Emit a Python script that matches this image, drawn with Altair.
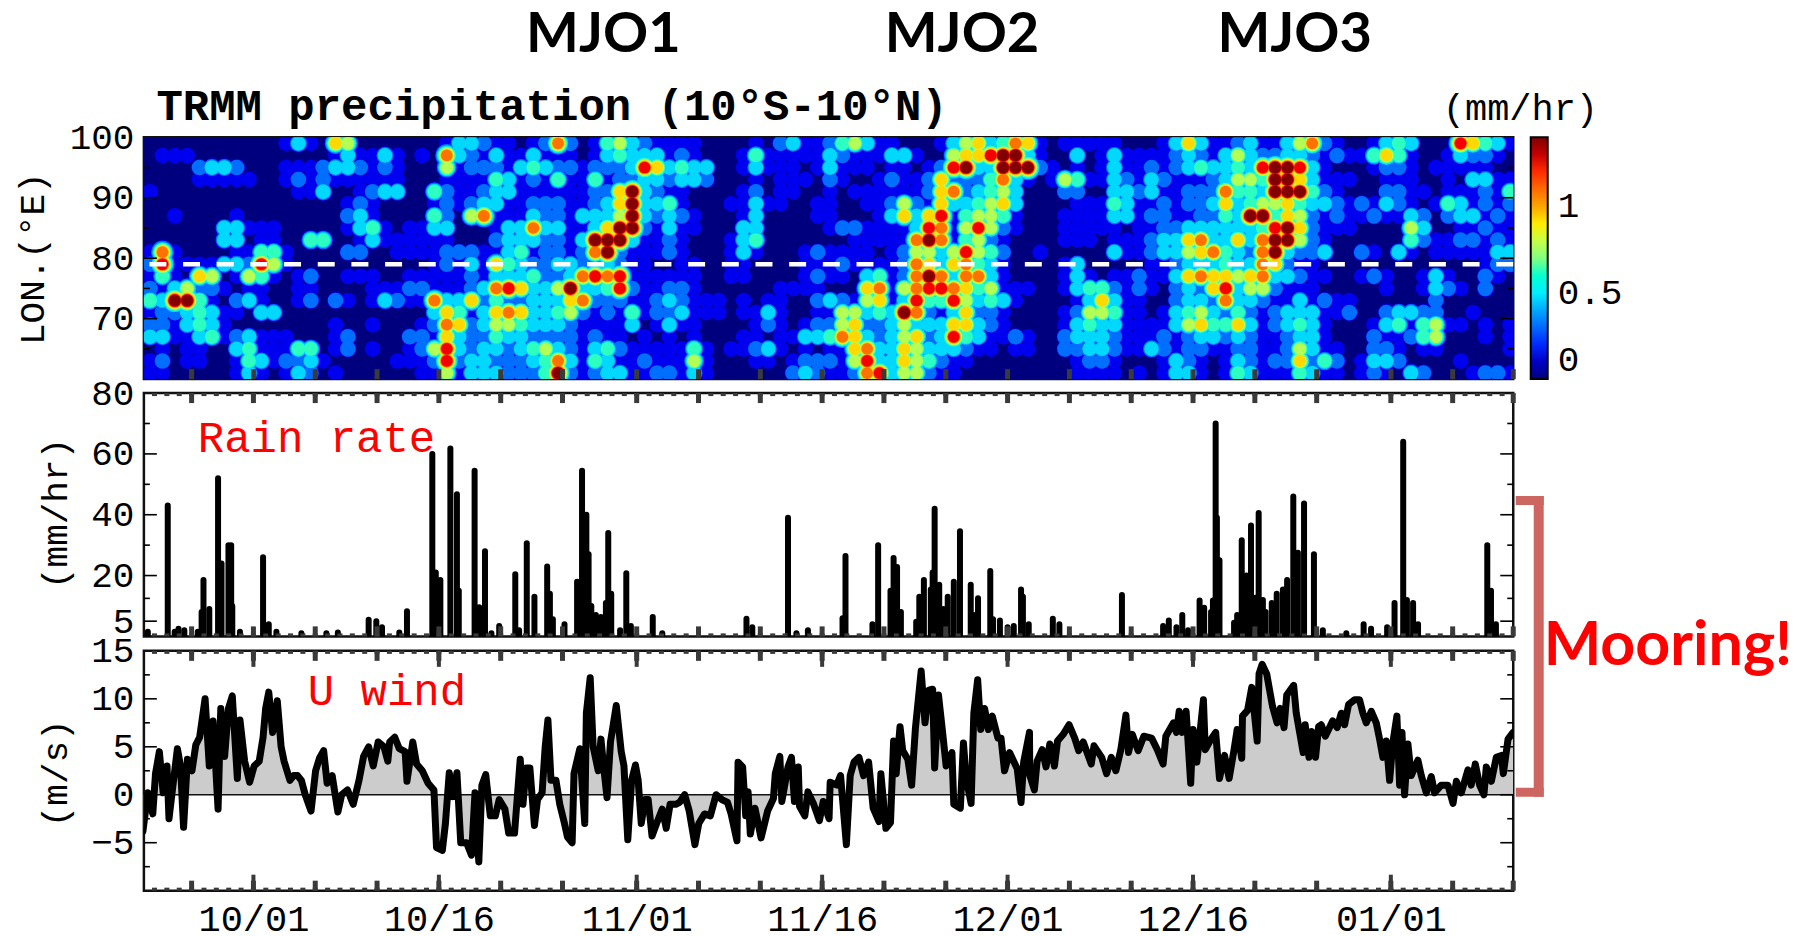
import altair as alt
import pandas as pd

FONT = "Liberation Mono"
W = 1370.5
H1, H2, H3 = 242, 243.5, 240
DAY0, DAY1 = -8.86, 101.9

# TRMM rain: one string per 2-degree row (100E at top), one digit per day
HEAT_ROWS = [
 "0000000000 0131065000 0000133211 0127201453 21111000 01 0231124531 1000135634 7610111110 0013631123 113572 100134300086431",
 "0111000000 0000013113 1010732131 1311101343 33121000 14 1111132111 3310056689 9310030131 1112321353 223321 211464100132210",
 "0000233200 0111233212 1000512221 3432212223 86343300 13 1110131110 1101289339 9921010131 1212343343 899831 000122101111100",
 "0000111110 0121211111 1000111143 1214114122 33233200 01 0111021001 2112622247 3101541132 1321112355 499631 110011100103311",
 "1000000000 0011300123 3004211233 1111112269 32110000 12 0110010111 1112672345 3000220033 2311222744 399942 100022110111214",
 "0000000000 0000001210 0001212331 1222112369 33410001 13 1100110011 2521633456 3000011143 1121223634 556433 212132101431212",
 "0010000100 0000002310 0004205711 1322133359 32321000 13 0000110001 3636814554 1000111133 1221122439 946521 211211320233121",
 "0000003311 1000001341 0113300013 3733113699 21311000 33 0000012211 1138715852 1000111110 1122333333 489621 110000530011211",
 "0000003301 1004400131 1111100023 3322139993 11210001 34 0000000111 1179714521 0000111011 1233673363 799521 000000421122121",
 "1710000114 4100002200 1111222113 4122127921 11210001 31 0001211110 1255358542 0010000031 1233567432 793223 002103101111133",
 "2811113328 5100000000 0001213164 3223322321 10011001 10 0001112111 1276367431 0000130000 0112333433 762110 000000000000122",
 "1410650154 1012001110 0111112133 3422378781 11111001 10 0001211034 1279737731 0000131011 2113676656 733211 001210013100210",
 "2135221011 0011000011 1221112378 6335933482 11221000 00 0111100067 1578876451 1100134421 2102326835 521110 000010013210200",
 "4399410231 0012021013 2117336242 2333672221 12321110 10 1100232156 1384485343 1000013631 1002332733 211312 110000002000000",
 "1223431103 3000000000 0003641367 6334521214 12231110 11 3100115534 3972136221 0000125541 1013453242 123331 120023322001000",
 "2213431000 0000010010 0012762355 4333211113 01311000 01 2101225622 3533366321 0000134331 1113564463 123431 000134145110101",
 "3311341231 1100012000 0221632243 3222212110 10101000 11 0113347632 3562384311 2100233321 1121233232 112331 000211245000101",
 "0101100341 1144012010 0125832332 3453213421 11114101 12 3101011673 3653332110 1100223321 1321221122 112531 100221011000001",
 "1201100143 1223100000 1112823322 2347314311 21115100 01 1012221583 3654211000 0000012210 0013210132 122624 201332000010000",
 "1100000131 0132010000 0011513332 2249212331 12213100 00 0023211278 3552110000 0000011110 1013310143 111431 101210320001221",
]
LEVEL_MM_HR = 0.155
JET = ["#00007f", "#0000ff", "#0080ff", "#00ffff", "#80ff80", "#ffff00", "#ff8000", "#ff0000", "#7f0000"]

# Mooring rain rate spikes: day after Oct 1, mm/hr
RAIN_DAYS = [-8.54,-6.93,-6.37,-6.06,-5.59,-4.5,-4.19,-4.04,-3.57,-2.86,-2.58,-2.02,-1.8,-1.71,-1.09,.78,1.24,1.86,3.88,5.9,6.83,9.32,9.94,10.4,11.8,12.42,14.47,14.75,14.84,15.12,15.93,16.46,16.61,17.89,18.26,18.73,19.25,19.88,21.18,21.49,22.11,22.73,23.76,23.98,24.22,25.16,26.18,26.58,26.93,27.11,27.33,27.7,28.11,28.51,28.7,28.94,29.66,30.16,30.53,32.3,33.07,
 39.88,40.35,43.24,43.92,44.85,47.89,47.65,50.07,50.53,51.53,51.78,52.06,52.37,53.61,53.86,54.23,54.79,54.94,55.1,55.47,55.81,56.16,56.65,57.15,58.02,58.27,58.61,59.6,59.82,60.38,61,61.5,62.09,62.24,62.71,64.66,65.19,70.25,73.58,74.04,74.66,75.13,75.6,76.53,76.9,77.46,77.61,77.83,77.93,78.14,79.32,79.57,79.94,80.32,80.69,81.03,81.31,81.65,81.87,82.37,82.77,83.27,83.61,84.11,84.48,84.98,85.78,86.5,88.4,89.8,90.4,91.7,92.3,93.0,93.3,93.8,94.2,99.8,100.1,100.5]
RAIN_VALS = [1.5,43,1.5,2.5,2,1.5,8,18.5,9,52,24,30,30,10,1.5,26,4,1.5,1,1,1.3,5.5,5,3,1.3,8.3,60,21,12.7,18.5,61.8,46.7,15,54.5,9.6,28,1,3.4,20.4,2,30.6,13,23,14,5.6,4,18,54.5,40,27,10,7,6.4,11,34,14,2,20.8,3.4,6.4,1,
 5.8,3,39,1,2,26.4,6,4,30,15,25.8,22.8,8,4.8,13,18.5,15.4,21,42,17,9,13,18,34.6,17,7,12.5,21.5,5.6,5.2,3,3.4,15.4,13,4,5.8,4,13.6,3.4,5.2,3,7,2,11.8,9.4,8,11.8,70,39,25,4.5,7,31.6,20,36.5,12.7,40.6,12,8,11,14,15.4,18.5,46,27.5,43.7,27,2,1,4,2.5,3,11,64,12,11,4,30,15,4]

# Mooring zonal wind: day after Oct 1, m/s
WIND_DAYS = [-8.94,-8.54,-8.14,-7.92,-7.61,-7.30,-6.99,-6.83,-6.46,-6.15,-5.90,-5.65,-5.34,-4.97,-4.66,-4.35,-3.91,-3.57,-3.26,-2.86,-2.64,-2.33,-2.02,-1.71,-1.30,-1.09,-.71,-.31,.06,.47,.78,.99,1.24,1.55,1.93,2.24,2.48,2.95,3.26,3.57,3.88,4.19,4.66,5.03,5.34,5.68,5.96,6.37,6.83,7.14,7.61,8.07,8.54,8.91,9.32,9.69,10.09,10.56,10.87,11.02,11.43,11.80,12.27,12.42,12.89,13.2,13.66,14.13,14.6,14.81,15.28,15.53,15.84,16.15,16.46,16.77,17.24,17.64,17.92,18.23,18.48,18.79,19.16,19.57,19.88,20.34,20.65,21.12,21.58,21.8,22.05,22.36,22.73,22.98,23.35,23.6,23.82,24.07,24.47,24.78,25.16,25.4,25.78,25.93,26.4,26.8,26.93,27.24,27.48,27.89,28.11,28.32,28.6,28.88,29.35,29.75,29.97,30.28,30.59,30.9,31.12,31.37,31.68,31.93,32.24,32.61,33.07,33.39,33.7,34.16,34.47,34.88,35.25,35.71,36.02,36.49,36.96,37.42,37.89,38.35,
 38.64,39.11,39.2,39.57,39.82,40.01,40.19,40.57,41.06,41.59,42.06,42.21,42.58,42.74,43.24,43.52,43.76,44.07,44.17,44.6,44.85,45.32,45.78,46.09,46.56,46.65,47.18,47.49,47.96,48.27,48.58,48.98,49.35,49.76,50.13,50.6,50.75,51.16,51.53,51.78,51.99,52.3,52.52,52.93,53.24,53.55,54.01,54.32,54.63,54.94,55.1,55.41,55.72,56.03,56.5,56.65,57.18,57.43,57.65,58.05,58.27,58.58,58.83,59.14,59.45,59.76,60.22,60.47,60.75,61.16,61.78,62.09,62.3,62.77,62.8,63.17,63.39,63.8,64.11,64.42,64.79,65.04,65.5,65.97,66.43,66.75,67.12,67.77,67.99,68.61,69.01,69.39,69.76,70.16,70.57,70.78,71.09,71.56,72.02,72.65,73.11,73.58,73.8,74.42,74.66,74.88,75.13,75.44,75.81,76,76.31,76.84,76.99,77.46,77.83,78.14,78.55,78.92,79.32,79.57,79.94,80,80.41,80.75,81.19,81.34,81.59,81.96,82.43,82.8,83.05,83.36,83.58,84.14,84.35,84.91,85.07,85.38,85.6,85.91,86.16,
 86.37,86.7,87.3,87.66,87.99,88.26,88.58,89.07,89.47,89.74,90.01,90.42,90.82,91.09,91.36,91.63,91.9,92.17,92.49,92.71,92.9,93.11,93.38,93.65,94.19,94.46,94.87,95.27,95.54,96.08,96.62,97.03,97.3,97.7,98.24,98.5,98.83,99.18,99.53,99.72,100.13,100.53,100.94,101.1,101.48,101.89]
WIND_VALS = [-3.8,.2,-2,2.2,4.5,.2,3,-2.5,1.5,4.8,3,-3.4,3.7,2.5,5.2,6,10,3,7.7,-1.5,9,4,9,10.3,1.7,7.8,3.5,1.3,3,3.5,6,9,10.7,6.5,9.8,5,3.5,1.5,2,2,1.5,0,-1.7,2.5,3.8,4.6,1.2,2,-1.8,0,.5,-1,1.5,4,5,3,5.5,5,3.5,5.5,6,4.8,4.5,1.4,5.5,3.2,2.5,1.2,.5,-5.5,-5.8,-3,2.3,-.2,2.3,-5,-5,-6.3,.2,-7,1,2.1,-2.2,-2.2,-.5,-1.5,-4,-4,3.7,-1,2.8,2.8,-3.2,-.5,.2,5,7.8,1.5,1.5,-1,-3,-4.4,-5,2.2,4.8,-3,8.5,12.2,5,2.5,5.8,3,-.3,5.5,9.3,4.5,3,-4.7,1.5,3.1,1.5,-3,-.5,-.5,-4.3,-3,-1.5,-3.5,-1,-1,-.8,0,-1.7,-5.2,-3,-2,-2.2,0,-.5,-.8,
 -2,-4.8,3.4,2.9,-2.2,.3,-4.1,-1.4,-4.5,-1.7,-.4,2.2,4,-.7,2.9,3.9,-.7,2.9,-1.2,-2.2,.3,-1,-2.7,-.7,-2.5,1.3,1,2,-5.2,2,3.4,3.9,2,3.4,-1.4,-2.8,2.2,-3.5,-2.9,5.6,2.2,7.1,4.6,3.7,1,7,12.9,7.5,10.9,11,2.8,10.4,6.8,3,4.4,-1,-1.4,5.4,1.7,-.9,8.5,12,6.8,9,6.8,8.2,5.9,5.9,2.5,4.4,2.7,-.8,3.4,6.5,2,.5,3.5,4.7,2.9,5.3,3,5.6,6.3,7.3,5.9,4.6,5.5,3.2,5.1,3.9,2.2,3.9,2.5,4.7,8.3,4.4,6.3,4.6,6.1,5.9,4.7,3.2,6.1,7.5,6.5,8.7,6.5,8.7,1.2,6.8,3.4,9.9,4.7,5.8,6.5,1.7,4.1,1.7,4.7,6.8,3.8,8.2,8.8,11.2,5.6,12.6,13.6,12.6,9.2,7.5,9,7,10.4,11.4,8.5,4.4,7.3,3.9,6.6,3.9,7.1,
 7.3,6.1,7.7,7,8.5,7.3,9.4,9.9,9.9,8.5,7.5,8.7,7.5,5.8,3.9,5.6,1.5,5.5,8.2,1,6.5,0,5.3,2,3.6,2,.2,1.9,.2,1,1,-.9,1.4,.2,2.6,1,3.2,1,0,2.9,1.4,3.9,4.1,2.2,5.8,6.5]

# Axis values
X_TICK_DAYS = [0, 15, 31, 46, 61, 76, 92]
X_TICK_TEXT = ["10/01", "10/16", "11/01", "11/16", "12/01", "12/16", "01/01"]
FIVE_DAY_TICKS = [-5, 0, 5, 10, 15, 20, 25, 31, 36, 41, 46, 51, 56, 61, 66, 71, 76, 81, 86, 92, 97, 101.9]
ONE_DAY_TICKS = list(range(-8, 102))
LON_LABELS = [70, 80, 90, 100]
LON_LONG, LON_SHORT = [70, 80, 90], [65, 75, 85, 95]
RAIN_LABELS = [5, 20, 40, 60, 80]
RAIN_LONG, RAIN_SHORT = [5, 20, 40, 60], [12.5, 30, 50, 70]
WIND_LABELS = [-5, 0, 5, 10, 15]
WIND_LONG, WIND_SHORT = [-5, 0, 5, 10], [-7.5, -2.5, 2.5, 7.5, 12.5]
DASH_LON = 79

xs = alt.Scale(domain=[DAY0, DAY1], nice=False, zero=False)
ys1 = alt.Scale(domain=[60, 100], nice=False, zero=False)
ys2 = alt.Scale(domain=[0, 80], nice=False, zero=True)
ys3 = alt.Scale(domain=[-10, 15], nice=False, zero=False)
cs = alt.Scale(domain=[0, 1.4], range=JET, nice=False, zero=True)

label_map = "{" + ",".join(f"'{d}':'{t}'" for d, t in zip(X_TICK_DAYS, X_TICK_TEXT)) + "}"


def text_mark(txt, x, y, size, color="black", font=FONT, bold=False):
    kw = dict(font=font, fontSize=size, color=color, align="left", baseline="alphabetic",
              fontWeight="bold" if bold else "normal")
    return alt.Chart(pd.DataFrame({"t": [txt]})).mark_text(**kw).encode(
        x=alt.value(x), y=alt.value(y), text="t:N")


def y_axis(labels, title, title_x, title_y):
    return alt.Axis(values=labels, title=title, titleFont=FONT, titleFontSize=36, titleFontWeight="normal",
                    titleX=title_x, titleY=title_y, titleAngle=270, titleColor="black",
                    labelFont=FONT, labelFontSize=36, labelColor="black", labelPadding=10,
                    ticks=False, domain=False, grid=False, labelOverlap=False, labelFlush=False)


def y_ticks(vals, yscale, yaxis, w, size):
    df = pd.DataFrame({"v": vals})
    m = alt.Chart(df).mark_rule(color="black", strokeWidth=1.6)
    enc = dict(y=alt.Y("v:Q", scale=yscale, axis=yaxis))
    return [m.encode(x=alt.value(0), x2=alt.value(size), **enc),
            m.encode(x=alt.value(w - size), x2=alt.value(w), **enc)]


def x_ticks(vals, xaxis, h, size, width, top=True, bottom=True, color="#3a3a3a"):
    df = pd.DataFrame({"d": vals})
    m = alt.Chart(df).mark_rule(color=color, strokeWidth=width)
    enc = dict(x=alt.X("d:Q", scale=xs, axis=xaxis))
    out = []
    if top:
        out.append(m.encode(y=alt.value(0), y2=alt.value(size), **enc))
    if bottom:
        out.append(m.encode(y=alt.value(h - size), y2=alt.value(h), **enc))
    return out


# Panel 1: heat map, each cell drawn as nested level discs so neighbours merge into contour-like shapes
ax1 = y_axis(LON_LABELS, "LON.(°E)", -92, 121)
rows = [r.replace(" ", "") for r in HEAT_ROWS]
discs = []
for r, row in enumerate(rows):
    for c, ch in enumerate(row):
        v = int(ch)
        for k in range(1, v + 1):
            core = 8.8 if k <= 2 else max(6.6, 8.8 - 0.5 * (k - 2))
            radius = core + 0.8 * (v - k)
            discs.append({"d": DAY0 + c + 0.5, "lon": 99 - 2 * r, "v": k * LEVEL_MM_HR,
                          "k": k, "s": 3.1416 * radius * radius})
discs.sort(key=lambda e: e["k"])
ground = alt.Chart(pd.DataFrame({"d0": [DAY0], "d1": [DAY1], "l0": [60], "l1": [100]})).mark_rect(
    color=JET[0]).encode(
    x=alt.X("d0:Q", scale=xs, axis=None), x2="d1:Q",
    y=alt.Y("l0:Q", scale=ys1, axis=ax1), y2="l1:Q")
heat = alt.Chart(pd.DataFrame(discs)).mark_circle(opacity=1, clip=True).encode(
    x=alt.X("d:Q", scale=xs, axis=None),
    y=alt.Y("lon:Q", scale=ys1, axis=ax1),
    size=alt.Size("s:Q", scale=None, legend=None),
    color=alt.Color("v:Q", scale=cs, legend=alt.Legend(
        type="gradient", orient="none", legendX=1388, legendY=0, title=None, direction="vertical",
        values=[0, 0.5, 1], format=".1~f", gradientLength=H1, gradientThickness=17,
        gradientStrokeColor="black", gradientStrokeWidth=2,
        labelFont=FONT, labelFontSize=36, labelColor="black", labelOffset=10, labelBaseline="middle")),
)
dash = alt.Chart(pd.DataFrame({"lon": [DASH_LON]})).mark_rule(
    color="white", strokeWidth=4.5, strokeDash=[17, 16.7]).encode(y=alt.Y("lon:Q", scale=ys1, axis=ax1))
cb = alt.Chart(pd.DataFrame({"a": [0]})).mark_rule(color="black", strokeWidth=1.5)
p1 = alt.layer(
    ground, heat, dash,
    *y_ticks(LON_LONG, ys1, ax1, W, 13), *y_ticks(LON_SHORT, ys1, ax1, W, 6),
    *x_ticks(FIVE_DAY_TICKS, None, H1, 10, 5, top=False),
    text_mark("TRMM precipitation (10°S-10°N)", 12.5, -17, 44, bold=True),
    text_mark("MJO1", 382.5, -85, 56, font="Lato", bold=True),
    text_mark("MJO2", 741.5, -85, 56, font="Lato", bold=True),
    text_mark("MJO3", 1074.5, -85, 56, font="Lato", bold=True),
    text_mark("(mm/hr)", 1300, -17, 37),
    cb.encode(x=alt.value(1388), x2=alt.value(1392), y=alt.value(69)),
    cb.encode(x=alt.value(1401), x2=alt.value(1405), y=alt.value(69)),
    cb.encode(x=alt.value(1388), x2=alt.value(1392), y=alt.value(155)),
    cb.encode(x=alt.value(1401), x2=alt.value(1405), y=alt.value(155)),
).properties(width=W, height=H1)

# Panel 2: rain rate
ax2 = y_axis(RAIN_LABELS, "(mm/hr)", -69, 120)
rain = alt.Chart(pd.DataFrame({"d": RAIN_DAYS, "v": RAIN_VALS})).mark_rule(
    color="black", strokeWidth=6, strokeCap="round", clip=True).encode(
    x=alt.X("d:Q", scale=xs, axis=None),
    y=alt.Y("v:Q", scale=ys2, axis=ax2),
    y2=alt.Y2(datum=0),
)
p2 = alt.layer(
    rain,
    *y_ticks(RAIN_LONG, ys2, ax2, W, 13), *y_ticks(RAIN_SHORT, ys2, ax2, W, 6),
    *x_ticks(ONE_DAY_TICKS, None, H2, 3, 5),
    *x_ticks(FIVE_DAY_TICKS, None, H2, 10, 5),
    text_mark("Rain rate", 54, 59, 44, color="#ff0000"),
).properties(width=W, height=H2)

# Panel 3: U wind
ax3 = y_axis(WIND_LABELS, "(m/s)", -69, 122)
xax3 = alt.Axis(values=X_TICK_DAYS, labelExpr=f"{label_map}[datum.value]", title=None,
                labelFont=FONT, labelFontSize=37, labelColor="black", labelPadding=11,
                ticks=False, domain=False, grid=False, labelOverlap=False, labelFlush=False)
wind_df = pd.DataFrame({"d": WIND_DAYS, "v": WIND_VALS})
area = alt.Chart(wind_df).mark_area(color="#cccccc", opacity=1, clip=True).encode(
    x=alt.X("d:Q", scale=xs, axis=xax3),
    y=alt.Y("v:Q", scale=ys3, axis=ax3),
    y2=alt.Y2(datum=0),
)
zero = alt.Chart(pd.DataFrame({"v": [0]})).mark_rule(color="#111111", strokeWidth=1.6).encode(
    y=alt.Y("v:Q", scale=ys3, axis=ax3))
line = alt.Chart(wind_df).mark_line(color="black", strokeWidth=7, strokeJoin="round", strokeCap="round",
                                    clip=True).encode(
    x=alt.X("d:Q", scale=xs, axis=xax3), y=alt.Y("v:Q", scale=ys3, axis=ax3))

BRACKET = "#cd6660"
brk = alt.Chart(pd.DataFrame({"a": [0]}))
p3 = alt.layer(
    area, zero, line,
    *y_ticks(WIND_LONG, ys3, ax3, W, 13), *y_ticks(WIND_SHORT, ys3, ax3, W, 6),
    *x_ticks(ONE_DAY_TICKS, xax3, H3, 3, 5),
    *x_ticks(FIVE_DAY_TICKS, xax3, H3, 10, 5),
    *x_ticks(X_TICK_DAYS, xax3, H3, 16, 4),
    text_mark("U wind", 164, 54, 44, color="#ff0000"),
    brk.mark_rule(color=BRACKET, strokeWidth=10).encode(x=alt.value(1396), y=alt.value(-155), y2=alt.value(146)),
    brk.mark_rule(color=BRACKET, strokeWidth=9).encode(x=alt.value(1373), x2=alt.value(1401), y=alt.value(-150.5)),
    brk.mark_rule(color=BRACKET, strokeWidth=9).encode(x=alt.value(1373), x2=alt.value(1401), y=alt.value(141.5)),
    text_mark("Mooring!", 1401, 14, 61, color="#ff0000", font="Lato", bold=True),
).properties(width=W, height=H3)

chart = alt.vconcat(p1, p2, p3, spacing=14, bounds="flush").resolve_legend(color="independent").properties(
    padding={"left": 5, "top": -3, "right": 0, "bottom": 40}, background="white"
).configure_view(stroke="#111111", strokeWidth=2.5)

chart.save("out.html", embed_options={"renderer": "svg", "actions": False})
